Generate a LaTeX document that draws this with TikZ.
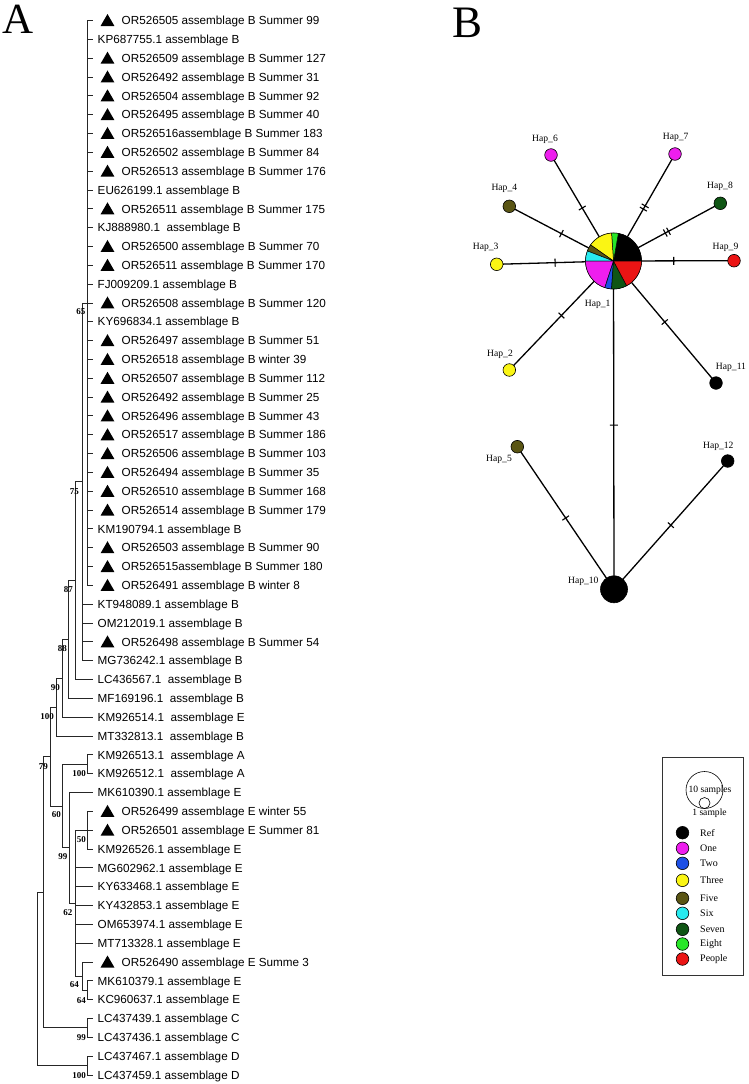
\documentclass[tikz,border=0pt]{standalone}
\usepackage{fontspec}
\setmainfont{Liberation Serif}
\newfontfamily\arialf{Liberation Sans}
\usetikzlibrary{shapes.geometric,backgrounds}
\definecolor{cOne}{RGB}{238,30,238}
\definecolor{cTwo}{RGB}{30,80,230}
\definecolor{cThree}{RGB}{250,245,20}
\definecolor{cFive}{RGB}{90,85,20}
\definecolor{cSix}{RGB}{40,235,240}
\definecolor{cSeven}{RGB}{15,85,20}
\definecolor{cEight}{RGB}{40,230,40}
\definecolor{cPeople}{RGB}{235,20,20}
\begin{document}
\begin{tikzpicture}[x=1pt,y=-1pt,
  br/.style={line width=0.9pt, black!85},
  leaflbl/.style={anchor=base west, inner sep=0pt, font=\arialf\fontsize{11.7}{12}\selectfont},
  tri/.style={regular polygon, regular polygon sides=3, fill=black, minimum size=16pt, inner sep=0pt},
  boot/.style={anchor=east, inner sep=0pt, font=\bfseries\fontsize{9}{10}\selectfont},
  hap/.style={circle, draw=black, line width=0.6pt, minimum size=12.6pt, inner sep=0pt},
  haplbl/.style={inner sep=0pt, font=\fontsize{9.6}{10}\selectfont},
  lgtxt/.style={anchor=west, inner sep=0pt, font=\fontsize{10}{11}\selectfont},
  edge/.style={line width=1.3pt},
  mtick/.style={sloped, rectangle, draw, line width=1.1pt, minimum width=0pt, minimum height=8pt, inner sep=0pt}
]
\useasboundingbox (0,0) rectangle (748,1084);

% panel letters
\node[anchor=base, inner sep=0pt, font=\fontsize{43}{43}\selectfont] (pA) at (18.5,33.3) {A};
\node[anchor=base, inner sep=0pt, font=\fontsize{45}{45}\selectfont] (pB) at (467.5,37.3) {B};

% ---------------- tree leaves ----------------
\foreach \i/\t/\s in {
1/1/OR526505 assemblage B Summer 99,
2/0/KP687755.1 assemblage B,
3/1/OR526509 assemblage B Summer 127,
4/1/OR526492 assemblage B Summer 31,
5/1/OR526504 assemblage B Summer 92,
6/1/OR526495 assemblage B Summer 40,
7/1/OR526516assemblage B Summer 183,
8/1/OR526502 assemblage B Summer 84,
9/1/OR526513 assemblage B Summer 176,
10/0/EU626199.1 assemblage B,
11/1/OR526511 assemblage B Summer 175,
12/0/KJ888980.1~ assemblage B,
13/1/OR526500 assemblage B Summer 70,
14/1/OR526511 assemblage B Summer 170,
15/0/FJ009209.1 assemblage B,
16/1/OR526508 assemblage B Summer 120,
17/0/KY696834.1 assemblage B,
18/1/OR526497 assemblage B Summer 51,
19/1/OR526518 assemblage B winter 39,
20/1/OR526507 assemblage B Summer 112,
21/1/OR526492 assemblage B Summer 25,
22/1/OR526496 assemblage B Summer 43,
23/1/OR526517 assemblage B Summer 186,
24/1/OR526506 assemblage B Summer 103,
25/1/OR526494 assemblage B Summer 35,
26/1/OR526510 assemblage B Summer 168,
27/1/OR526514 assemblage B Summer 179,
28/0/KM190794.1 assemblage B,
29/1/OR526503 assemblage B Summer 90,
30/1/OR526515assemblage B Summer 180,
31/1/OR526491 assemblage B winter 8,
32/0/KT948089.1 assemblage B,
33/0/OM212019.1 assemblage B,
34/1/OR526498 assemblage B Summer 54,
35/0/MG736242.1 assemblage B,
36/0/LC436567.1~ assemblage B,
37/0/MF169196.1~ assemblage B,
38/0/KM926514.1~ assemblage E,
39/0/MT332813.1~ assemblage B,
40/0/KM926513.1~ assemblage A,
41/0/KM926512.1~ assemblage A,
42/0/MK610390.1 assemblage E,
43/1/OR526499 assemblage E winter 55,
44/1/OR526501 assemblage E Summer 81,
45/0/KM926526.1 assemblage E,
46/0/MG602962.1 assemblage E,
47/0/KY633468.1 assemblage E,
48/0/KY432853.1 assemblage E,
49/0/OM653974.1 assemblage E,
50/0/MT713328.1 assemblage E,
51/1/OR526490 assemblage E Summe 3,
52/0/MK610379.1 assemblage E,
53/0/KC960637.1 assemblage E,
54/0/LC437439.1 assemblage C,
55/0/LC437436.1 assemblage C,
56/0/LC437467.1 assemblage D,
57/0/LC437459.1 assemblage D}{
  \pgfmathsetmacro\yy{20.5+18.83*(\i-1)}
  \coordinate (t\i) at (92.5,\yy);
  \ifnum\t=1
    \node[tri] (m\i) at ({107.5},{\yy+1.5}) {};
    \node[leaflbl] (L\i) at ({121.5},{\yy+4.2}) {\s};
  \else
    \node[leaflbl] (L\i) at ({97.5},{\yy+4.2}) {\s};
  \fi
}

% ---------------- internal nodes ----------------
\coordinate (cP) at (87,302.95);
\coordinate (c75) at (82,481.84);
\coordinate (c87) at (75,580.7);
\coordinate (c88) at (68.5,639.54);
\coordinate (c90) at (62,678.38);
\coordinate (c100) at (56,707.21);
\coordinate (c79) at (50,756.64);
\coordinate (cA) at (87,764.29);
\coordinate (c60) at (62.5,806.07);
\coordinate (c99) at (69,847.84);
\coordinate (c62) at (75,903.16);
\coordinate (c50) at (87,830.19);
\coordinate (c64a) at (82,976.12);
\coordinate (c64b) at (87,990.25);
\coordinate (cX) at (43,892.27);
\coordinate (cC) at (87,1027.9);
\coordinate (cD) at (87,1065.57);
\coordinate (cR) at (37,978.9);

% ---------------- branches ----------------
\foreach \k in {1,...,31} \draw[br] (cP) |- (t\k);
\foreach \k in {32,...,35} \draw[br] (c75) |- (t\k);
\draw[br] (c75) |- (cP);
\draw[br] (c87) |- (c75);  \draw[br] (c87) |- (t36);
\draw[br] (c88) |- (c87);  \draw[br] (c88) |- (t37);
\draw[br] (c90) |- (c88);  \draw[br] (c90) |- (t38);
\draw[br] (c100) |- (c90); \draw[br] (c100) |- (t39);
\draw[br] (c79) |- (c100); \draw[br] (c79) |- (c60);
\draw[br] (cA) |- (t40);   \draw[br] (cA) |- (t41);
\draw[br] (c60) |- (cA);   \draw[br] (c60) |- (c99);
\draw[br] (c99) |- (t42);  \draw[br] (c99) |- (c62);
\foreach \k in {46,...,50} \draw[br] (c62) |- (t\k);
\draw[br] (c62) |- (c50);  \draw[br] (c62) |- (c64a);
\foreach \k in {43,44,45} \draw[br] (c50) |- (t\k);
\draw[br] (c64a) |- (t51); \draw[br] (c64a) |- (c64b);
\draw[br] (c64b) |- (t52); \draw[br] (c64b) |- (t53);
\draw[br] (cX) |- (c79);   \draw[br] (cX) |- (cC);
\draw[br] (cC) |- (t54);   \draw[br] (cC) |- (t55);
\draw[br] (cR) |- (cX);    \draw[br] (cR) |- (cD);
\draw[br] (cD) |- (t56);   \draw[br] (cD) |- (t57);

% ---------------- bootstrap values ----------------
\node[boot] (b65) at (85.5,312) {65};
\node[boot] (b75) at (79,492) {75};
\node[boot] (b87) at (73,590) {87};
\node[boot] (b88) at (67,649) {88};
\node[boot] (b90) at (60,688) {90};
\node[boot] (b100) at (54,717) {100};
\node[boot] (b79) at (48,767) {79};
\node[boot] (bA) at (86,774) {100};
\node[boot] (b60) at (61,815) {60};
\node[boot] (b99) at (67.5,857) {99};
\node[boot] (b50) at (86,840) {50};
\node[boot] (b62) at (72.5,913) {62};
\node[boot] (b64a) at (79,985) {64};
\node[boot] (b64b) at (86,1001) {64};
\node[boot] (bC) at (86,1038) {99};
\node[boot] (bD) at (86,1076) {100};

% ---------------- haplotype network ----------------
\node[circle, draw=black, line width=0.6pt, minimum size=56pt, inner sep=0pt] (h1) at (613.5,261) {};
\foreach \a/\b/\c in {0/80/black, 80/94/cEight, 94/145/cThree, 145/159/cFive, 159/180/cSix,
                      180/252/cOne, 252/266/cTwo, 266/298/cSeven, 298/360/cPeople}
  \filldraw[fill=\c, draw=black, line width=0.5pt] (h1.center) -- ++(-\a:28) arc[start angle=-\a, end angle=-\b, radius=28] -- cycle;

\node[hap, fill=cOne] (h6) at (551,155) {};
\node[hap, fill=cOne] (h7) at (675,154) {};
\node[hap, fill=cFive] (h4) at (509.3,206.3) {};
\node[hap, fill=cSeven] (h8) at (720.3,203.3) {};
\node[hap, fill=cThree] (h3) at (496.7,264.3) {};
\node[hap, fill=cPeople] (h9) at (734,260.7) {};
\node[hap, fill=cThree] (h2) at (509.3,370) {};
\node[hap, fill=black] (h11) at (716,383) {};
\node[hap, fill=cFive] (h5) at (517.3,446.7) {};
\node[hap, fill=black] (h12) at (727.7,461) {};
\node[hap, fill=black, minimum size=27pt] (h10) at (614,589.3) {};

\begin{scope}[on background layer]
  \fill[white] (0,0) rectangle (748,1084);
  \draw[edge] (h1.center) -- node[mtick]{} (h6.center);
  \draw[edge] (h1.center) -- node[mtick,pos=0.485]{} node[mtick,pos=0.515]{} (h7.center);
  \draw[edge] (h1.center) -- node[mtick]{} (h4.center);
  \draw[edge] (h1.center) -- node[mtick,pos=0.485]{} node[mtick,pos=0.515]{} (h8.center);
  \draw[edge] (h1.center) -- node[mtick]{} (h3.center);
  \draw[edge] (h1.center) -- node[mtick]{} (h9.center);
  \draw[edge] (h1.center) -- node[mtick]{} (h2.center);
  \draw[edge] (h1.center) -- node[mtick]{} (h11.center);
  \draw[edge] (h1.center) -- node[mtick]{} (h10.center);
  \draw[edge] (h10.center) -- node[mtick]{} (h5.center);
  \draw[edge] (h10.center) -- node[mtick]{} (h12.center);
\end{scope}

\node[haplbl] (l6) at (545,139) {Hap\_6};
\node[haplbl] (l7) at (675.7,137) {Hap\_7};
\node[haplbl] (l4) at (504.3,188.3) {Hap\_4};
\node[haplbl] (l8) at (720,186.7) {Hap\_8};
\node[haplbl] (l3) at (485.7,247.3) {Hap\_3};
\node[haplbl] (l9) at (725.5,247.3) {Hap\_9};
\node[haplbl] (l1) at (597.7,304) {Hap\_1};
\node[haplbl] (l2) at (500,354.3) {Hap\_2};
\node[haplbl] (l11) at (731,367) {Hap\_11};
\node[haplbl] (l5) at (499,459) {Hap\_5};
\node[haplbl] (l12) at (718.3,446.7) {Hap\_12};
\node[haplbl] (l10) at (583.3,581.7) {Hap\_10};

% ---------------- legend ----------------
\node[draw=black!80, line width=0.7pt, minimum width=80.5pt, minimum height=218pt, inner sep=0pt] (legend) at (702.75,866) {};
\node[circle, draw, line width=0.6pt, minimum size=37pt, inner sep=0pt] (lgbig) at (704.5,790) {};
\node[circle, draw, line width=0.6pt, minimum size=11pt, inner sep=0pt] (lgsmall) at (704.5,803) {};
\node[haplbl] (lg10) at (710,790) {10 samples};
\node[haplbl] (lg1) at (709.5,813) {1 sample};
\foreach \n/\c/\yy in {Ref/black/832.7, One/cOne/848.3, Two/cTwo/863.3, Three/cThree/880.3,
                       Five/cFive/898.3, Six/cSix/913.3, Seven/cSeven/929.3, Eight/cEight/944,
                       People/cPeople/959}{
  \node[hap, fill=\c] (lgc\n) at (682.5,\yy) {};
  \node[lgtxt] (lgt\n) at (700,\yy) {\n};
}
\end{tikzpicture}
\end{document}
